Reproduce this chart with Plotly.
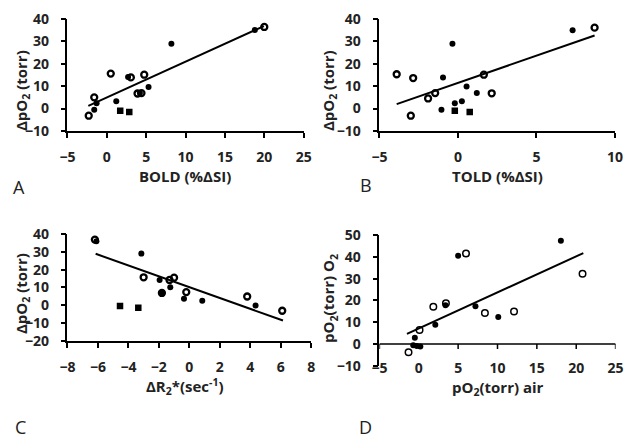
import plotly.graph_objects as go

# ---------------- data ----------------
A_open_x = [-2.3, -1.6, 0.5, 3.05, 4.75, 3.9, 4.4, 20.0]
A_open_y = [-3.2, 5.0, 15.6, 13.9, 15.1, 6.7, 6.9, 36.4]
A_fill_x = [-1.6, -1.3, 1.2, 2.7, 5.3, 8.2, 18.8, 4.2]
A_fill_y = [-0.5, 2.4, 3.2, 14.1, 9.6, 28.9, 35.1, 6.9]
A_sq_x = [1.7, 2.85]
A_sq_y = [-1.0, -1.6]
A_fit_x = [-2.35, 19.95]
A_fit_y = [1.2, 36.8]

B_open_x = [-3.9, -2.85, -3.0, -1.9, -1.45, 1.65, 2.15, 8.7]
B_open_y = [15.3, 13.6, -3.2, 4.5, 6.9, 15.1, 6.8, 36.1]
B_fill_x = [-0.35, -0.95, -1.05, -0.2, 0.25, 0.55, 1.2, 7.3]
B_fill_y = [28.9, 13.8, -0.5, 2.4, 3.2, 9.8, 6.9, 34.9]
B_sq_x = [-0.2, 0.75]
B_sq_y = [-1.0, -1.6]
B_fit_x = [-3.9, 8.7]
B_fit_y = [1.95, 32.6]

C_open_x = [-6.2, -3.0, -1.3, -1.0, -0.2, 3.8, 6.1, -1.8]
C_open_y = [36.9, 15.7, 14.2, 15.5, 7.4, 4.9, -3.1, 6.9]
C_fill_x = [-6.1, -3.15, -1.95, -1.25, -0.35, 0.85, 4.35, -1.8]
C_fill_y = [35.9, 29.0, 14.2, 10.1, 3.6, 2.5, -0.2, 7.0]
C_sq_x = [-4.55, -3.35]
C_sq_y = [-0.5, -1.4]
C_fit_x = [-6.15, 6.15]
C_fit_y = [28.9, -8.6]

D_open_x = [-1.3, 0.1, 1.85, 3.45, 6.0, 8.4, 12.1, 20.8]
D_open_y = [-3.8, 6.4, 17.1, 18.7, 41.5, 14.2, 14.9, 32.2]
D_fill_x = [-0.5, -0.7, -0.25, 0.2, 2.1, 3.4, 5.0, 7.2, 10.1, 18.05]
D_fill_y = [2.9, -0.5, -0.9, -1.1, 8.9, 17.8, 40.5, 17.3, 12.4, 47.4]
D_fit_x = [-1.5, 20.9]
D_fit_y = [4.7, 41.7]

A_xticks = [-5, 0, 5, 10, 15, 20, 25]
A_yticks = [-10, 0, 10, 20, 30, 40]
B_xticks = [-5, 0, 5, 10]
B_yticks = [-10, 0, 10, 20, 30, 40]
C_xticks = [-8, -6, -4, -2, 0, 2, 4, 6, 8]
C_yticks = [-20, -10, 0, 10, 20, 30, 40]
D_xticks = [-5, 0, 5, 10, 15, 20, 25]
D_yticks = [-10, 0, 10, 20, 30, 40, 50]

# ---------------- figure ----------------
W, H = 635, 447
FONT = "Open Sans"
TXT = "#222222"

def px(x):
    return x / W

def py(y):
    return 1 - y / H

fig = go.Figure()

panels = [
    ("x", "y", (A_open_x, A_open_y), (A_fill_x, A_fill_y), (A_sq_x, A_sq_y), (A_fit_x, A_fit_y), 2.3, 6),
    ("x2", "y2", (B_open_x, B_open_y), (B_fill_x, B_fill_y), (B_sq_x, B_sq_y), (B_fit_x, B_fit_y), 2.3, 6),
    ("x3", "y3", (C_open_x, C_open_y), (C_fill_x, C_fill_y), (C_sq_x, C_sq_y), (C_fit_x, C_fit_y), 2.3, 6),
    ("x4", "y4", (D_open_x, D_open_y), (D_fill_x, D_fill_y), None, (D_fit_x, D_fit_y), 1.5, 6.5),
]

for xa, ya, op, fi, sq, fit, lw, osz in panels:
    fig.add_trace(go.Scatter(x=fit[0], y=fit[1], mode="lines", xaxis=xa, yaxis=ya,
                             line=dict(color="black", width=2), showlegend=False, hoverinfo="skip"))
    fig.add_trace(go.Scatter(x=fi[0], y=fi[1], mode="markers", xaxis=xa, yaxis=ya,
                             marker=dict(symbol="circle", size=6, color="black"), showlegend=False))
    if sq is not None:
        fig.add_trace(go.Scatter(x=sq[0], y=sq[1], mode="markers", xaxis=xa, yaxis=ya,
                                 marker=dict(symbol="square", size=6.5, color="black"), showlegend=False))
    fig.add_trace(go.Scatter(x=op[0], y=op[1], mode="markers", xaxis=xa, yaxis=ya,
                             marker=dict(symbol="circle-open", size=osz, color="black",
                                         line=dict(width=lw, color="black")), showlegend=False))

tickfont = dict(family=FONT, size=14, color=TXT, weight="bold")

def xaxis(domain, rng, tv, anchor, **kw):
    d = dict(domain=domain, range=rng, tickvals=tv, anchor=anchor, showgrid=False,
             zeroline=False, showline=True, linecolor="black", linewidth=1.5,
             ticks="outside", ticklen=5, tickwidth=1.5, tickcolor="black",
             tickfont=tickfont, ticklabelstandoff=8, fixedrange=True)
    d.update(kw)
    return d

def yaxis(domain, rng, tv, anchor, **kw):
    d = dict(domain=domain, range=rng, tickvals=tv, anchor=anchor, showgrid=False,
             zeroline=False, showline=True, linecolor="black", linewidth=1.5,
             ticks="outside", ticklen=5, tickwidth=1.5, tickcolor="black",
             tickfont=tickfont, ticklabelstandoff=9, fixedrange=True)
    d.update(kw)
    return d

A_box = (61, 303.3, 9.3, 126.3)
B_box = (381, 622.7, 9.3, 126.3)
C_box = (61, 311, 234, 345.5)
D_box = (381, 623.3, 235, 371.7)

def dom(box):
    return [px(box[0]), px(box[1])], [py(box[3]), py(box[2])]

Ax, Ay = dom(A_box)
Bx, By = dom(B_box)
Cx, Cy = dom(C_box)
Dx, Dy = dom(D_box)

fig.update_layout(
    width=W, height=H, margin=dict(l=0, r=0, t=0, b=0),
    paper_bgcolor="white", plot_bgcolor="white", showlegend=False,
    xaxis=xaxis(Ax, [-5, 25], A_xticks, "y"),
    yaxis=yaxis(Ay, [-10, 40], A_yticks, "x"),
    xaxis2=xaxis(Bx, [-5, 10], B_xticks, "y2"),
    yaxis2=yaxis(By, [-10, 40], B_yticks, "x2"),
    xaxis3=xaxis(Cx, [-8, 8], C_xticks, "y3"),
    yaxis3=yaxis(Cy, [-20, 40], C_yticks, "x3"),
    xaxis4=xaxis(Dx, [-5, 25], D_xticks, "free", position=py(363), showline=False,
                 ticks="", ticklabelstandoff=0),
    yaxis4=yaxis(Dy, [-10, 50], D_yticks, "x4"),
)

# panel D: horizontal axis line crossing at y = 0, with its tick marks
fig.add_shape(type="line", xref="x4", yref="y4", x0=D_xticks[0], x1=D_xticks[-1], y0=0, y1=0,
              line=dict(color="black", width=1.5))
for t in D_xticks:
    fig.add_shape(type="line", xref="x4", yref="y4", ysizemode="pixel", yanchor=0,
                  x0=t, x1=t, y0=0, y1=-5, line=dict(color="black", width=1.5))

titlefont = dict(family=FONT, size=15, color=TXT, weight="bold")

def ann(text, x, y, angle=0, font=titlefont):
    fig.add_annotation(text=text, x=px(x), y=py(y), xref="paper", yref="paper",
                       showarrow=False, textangle=angle, font=font,
                       xanchor="center", yanchor="middle")

ann("ΔpO<sub>2</sub> (torr)", 15, 84, -90)
ann("BOLD (%ΔSI)", 182, 173)
ann("ΔpO<sub>2</sub> (torr)", 330, 84, -90)
ann("TOLD (%ΔSI)", 502, 173)
ann("ΔpO<sub>2</sub> (torr)", 15, 296, -90)
ann("ΔR<sub>2</sub>*(sec<sup>-1</sup>)", 182, 393)
ann("pO<sub>2</sub>(torr) O<sub>2</sub>", 330, 301, -90)
ann("pO<sub>2</sub>(torr) air", 503, 395)

letterfont = dict(family=FONT, size=18, color=TXT)
ann("A", 11, 185, 0, letterfont)
ann("B", 367, 183, 0, letterfont)
ann("C", 13, 435, 0, letterfont)
ann("D", 367, 435, 0, letterfont)

fig.write_html("out.html", config={"displayModeBar": False},
               post_script="document.body.style.margin='0';document.body.style.padding='0';")
